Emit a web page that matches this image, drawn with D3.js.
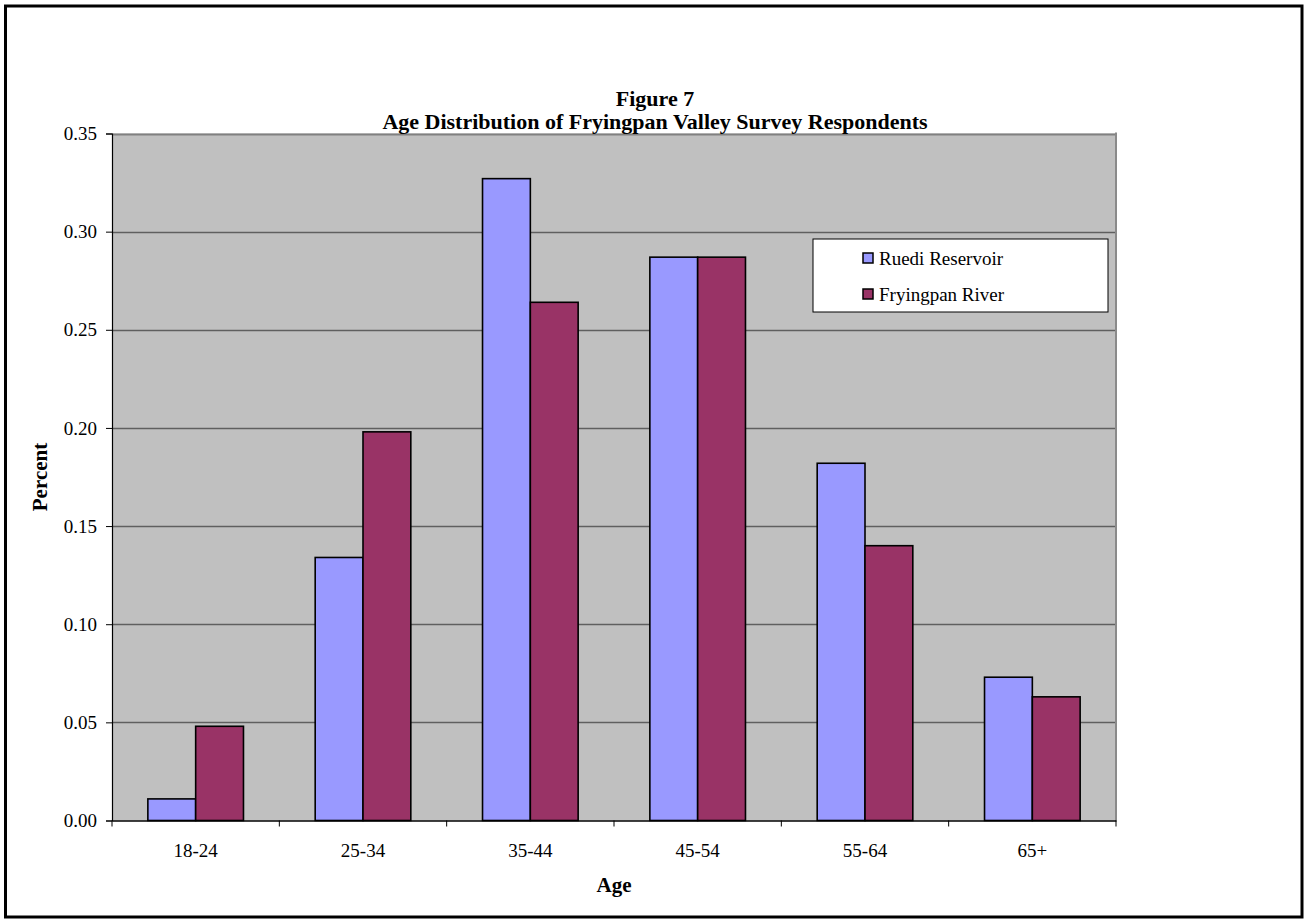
<!DOCTYPE html>
<html>
<head>
<meta charset="utf-8">
<script src="https://cdn.jsdelivr.net/npm/d3@7"></script>
<style>
  html, body { margin: 0; padding: 0; background: #fff; }
  svg { display: block; }
  text { font-family: "Liberation Serif", "Times New Roman", serif; fill: #000; }
</style>
</head>
<body>
<svg id="chart" width="1306" height="922"></svg>
<script>
// Age groups and the share of respondents in each, per survey location
const ageGroups = ["18-24", "25-34", "35-44", "45-54", "55-64", "65+"];
const seriesNames = ["Ruedi Reservoir", "Fryingpan River"];
const ruediReservoir = [0.011, 0.134, 0.327, 0.287, 0.182, 0.073];
const fryingpanRiver = [0.048, 0.198, 0.264, 0.287, 0.140, 0.063];
const yTicks = [0, 0.05, 0.10, 0.15, 0.20, 0.25, 0.30, 0.35];

const colors = ["#9999FF", "#993366"];
const seriesValues = [ruediReservoir, fryingpanRiver];

const svg = d3.select("#chart");

// outer frame
svg.append("rect")
  .attr("x", 5.5).attr("y", 6).attr("width", 1296.5).attr("height", 911)
  .attr("fill", "#fff").attr("stroke", "#000").attr("stroke-width", 3);

const plot = { left: 112, top: 133.5, right: 1116, bottom: 820.5 };

const x = d3.scaleBand().domain(ageGroups)
  .range([plot.left, plot.right]).paddingInner(0).paddingOuter(0);
const barW = x.bandwidth() / 3.5;
const xs = d3.scaleBand().domain(seriesNames)
  .range([0, barW * 2]);
const y = d3.scaleLinear().domain([0, 0.35]).range([plot.bottom, plot.top]);

// plot area background
svg.append("rect")
  .attr("x", plot.left).attr("y", plot.top)
  .attr("width", plot.right - plot.left).attr("height", plot.bottom - plot.top)
  .attr("fill", "#C0C0C0");

// horizontal gridlines
svg.append("g").selectAll("line")
  .data(yTicks.filter(d => d > 0))
  .join("line")
  .attr("x1", plot.left).attr("x2", plot.right)
  .attr("y1", d => Math.round(y(d)) + 0.5).attr("y2", d => Math.round(y(d)) + 0.5)
  .attr("stroke", d => d === 0.35 ? "#808080" : "#5f5f5f")
  .attr("stroke-width", d => d === 0.35 ? 2 : 1.6);

// right border of plot area
svg.append("line")
  .attr("x1", plot.right).attr("x2", plot.right)
  .attr("y1", plot.top - 1).attr("y2", plot.bottom)
  .attr("stroke", "#8a8a8a").attr("stroke-width", 2);

// bars
const groups = svg.append("g").selectAll("g")
  .data(ageGroups)
  .join("g")
  .attr("transform", d => `translate(${x(d) + (x.bandwidth() - barW * 2) / 2},0)`);

groups.selectAll("rect")
  .data((d, i) => seriesNames.map((s, k) => ({ s, k, v: seriesValues[k][i] })))
  .join("rect")
  .attr("x", d => xs(d.s))
  .attr("width", barW)
  .attr("y", d => y(d.v))
  .attr("height", d => y(0) - y(d.v))
  .attr("fill", d => colors[d.k])
  .attr("stroke", "#000")
  .attr("stroke-width", 1.6);

// y axis
const yAxis = d3.axisLeft(y).tickValues(yTicks)
  .tickFormat(d3.format(".2f")).tickSize(6).tickPadding(9);
const gy = svg.append("g").attr("transform", `translate(${plot.left},0)`).call(yAxis);
gy.select(".domain").attr("stroke", "#000").attr("stroke-width", 1.2);
gy.selectAll(".tick line").attr("stroke", "#000");
gy.selectAll(".tick text")
  .style("font-family", "Liberation Serif, Times New Roman, serif")
  .style("font-size", "19px").attr("fill", "#000");

// x axis with ticks at category boundaries
const xAxis = d3.axisBottom(x).tickSize(0).tickPadding(23);
const gx = svg.append("g").attr("transform", `translate(0,${plot.bottom})`).call(xAxis);
gx.select(".domain").attr("stroke", "#000").attr("stroke-width", 1.5);
gx.selectAll(".tick text")
  .style("font-family", "Liberation Serif, Times New Roman, serif")
  .style("font-size", "19px").attr("fill", "#000");
svg.append("g").selectAll("line")
  .data(d3.range(ageGroups.length + 1))
  .join("line")
  .attr("x1", i => plot.left + i * x.step()).attr("x2", i => plot.left + i * x.step())
  .attr("y1", plot.bottom).attr("y2", plot.bottom + 6)
  .attr("stroke", "#000").attr("stroke-width", 1);

// titles
svg.append("text")
  .attr("x", 655).attr("y", 106)
  .attr("text-anchor", "middle")
  .style("font-size", "22px").style("font-weight", "bold")
  .text("Figure 7");
svg.append("text")
  .attr("x", 655).attr("y", 129)
  .attr("text-anchor", "middle")
  .style("font-size", "22px").style("font-weight", "bold")
  .text("Age Distribution of Fryingpan Valley Survey Respondents");

svg.append("text")
  .attr("x", 614).attr("y", 892)
  .attr("text-anchor", "middle")
  .style("font-size", "21px").style("font-weight", "bold")
  .text("Age");

svg.append("text")
  .attr("transform", "translate(47,477) rotate(-90)")
  .attr("text-anchor", "middle")
  .style("font-size", "21px").style("font-weight", "bold")
  .text("Percent");

// legend
const legend = svg.append("g").attr("transform", "translate(813,239)");
legend.append("rect")
  .attr("x", 0).attr("y", 0).attr("width", 295).attr("height", 73)
  .attr("fill", "#fff").attr("stroke", "#000").attr("stroke-width", 1);
const items = legend.selectAll("g.item")
  .data(seriesNames)
  .join("g").attr("class", "item")
  .attr("transform", (d, i) => `translate(50,${19 + i * 36})`);
items.append("rect")
  .attr("x", 0).attr("y", -5).attr("width", 10).attr("height", 10)
  .attr("fill", (d, i) => colors[i]).attr("stroke", "#000").attr("stroke-width", 1.5);
items.append("text")
  .attr("x", 16).attr("y", 7)
  .style("font-size", "19px")
  .text(d => d);
</script>
</body>
</html>
